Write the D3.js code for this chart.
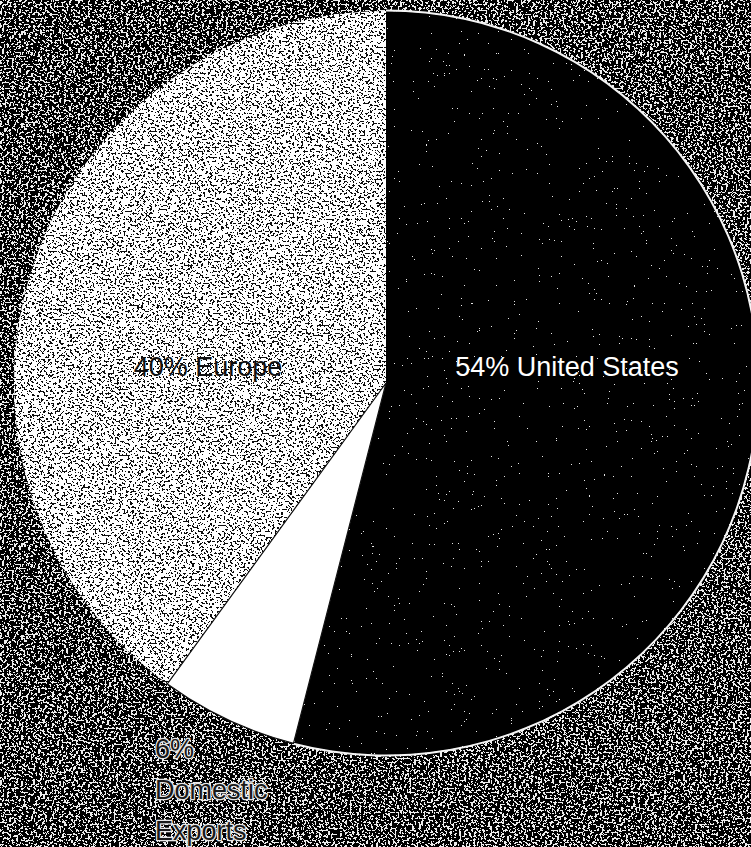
<!DOCTYPE html>
<html>
<head>
<meta charset="utf-8">
<script src="https://cdn.jsdelivr.net/npm/d3@7"></script>
<style>
  html, body { margin: 0; padding: 0; background: #111; }
  svg { display: block; }
  text { font-family: "Liberation Sans", Arial, sans-serif; }
</style>
</head>
<body>
<svg id="chart" width="751" height="847"></svg>
<script>
// Export market shares, clockwise from 12 o'clock
const categories = ["United States", "Domestic Exports", "Europe"];
const shares = [54, 6, 40];
// label lines for each slice
const labelLines = [["54% United States"], ["6%", "Domestic", "Exports"], ["40% Europe"]];

const W = 751, H = 847;
const cx = 386, cy = 383, R = 372;

const svg = d3.select("#chart");
const defs = svg.append("defs");

// Thresholded noise fill: pixels of noise above `cut` take `hi`, the rest `lo`.
function speckle(id, freq, seed, cut, lo, hi, octaves) {
  const N = 100;
  const table = d3.range(N).map(i => ((i + 0.5) / N < cut ? lo : hi)).join(" ");
  const f = defs.append("filter").attr("id", id)
    .attr("color-interpolation-filters", "sRGB")
    .attr("x", "-2%").attr("y", "-2%").attr("width", "104%").attr("height", "104%");
  f.append("feTurbulence").attr("type", "fractalNoise")
    .attr("baseFrequency", freq).attr("numOctaves", octaves || 2)
    .attr("seed", seed).attr("result", "n");
  f.append("feColorMatrix").attr("in", "n").attr("type", "matrix")
    .attr("values", "1 0 0 0 0  1 0 0 0 0  1 0 0 0 0  0 0 0 0 1").attr("result", "g");
  const ct = f.append("feComponentTransfer").attr("in", "g").attr("result", "t");
  ["feFuncR", "feFuncG", "feFuncB"].forEach(fn =>
    ct.append(fn).attr("type", "discrete").attr("tableValues", table));
  f.append("feComposite").attr("in", "t").attr("in2", "SourceGraphic").attr("operator", "in");
}

speckle("grain-bg", "0.42 0.5", 3, 0.548, 0.0, 0.93, 3);
speckle("grain-us", "0.6", 11, 0.8, 0.0, 0.9, 2);
speckle("grain-eu", "0.45 0.5", 7, 0.425, 0.05, 1.0, 3);

// scanned background
svg.append("rect").attr("width", W).attr("height", H)
  .attr("fill", "#000").attr("filter", "url(#grain-bg)");

const pie = d3.pie().sort(null).startAngle(0).endAngle(2 * Math.PI);
const arcs = pie(shares);
const arc = d3.arc().innerRadius(0).outerRadius(R);

const fills = ["#000", "#fff", "#fff"];
const grains = ["url(#grain-us)", null, "url(#grain-eu)"];

const g = svg.append("g").attr("transform", `translate(${cx},${cy})`);

g.selectAll("path.slice").data(arcs).join("path")
  .attr("class", "slice")
  .attr("d", arc)
  .attr("fill", (d, i) => fills[i])
  .attr("filter", (d, i) => grains[i]);

// thin light rim along the United States slice, dark rim on the small slice
g.append("path")
  .attr("d", d3.arc().innerRadius(R - 0.5).outerRadius(R + 1.5)(arcs[0]))
  .attr("fill", "#f4f4f4");
g.append("path")
  .attr("d", arc(arcs[1]))
  .attr("fill", "none").attr("stroke", "#111").attr("stroke-width", 1.2);

// labels
const fontSize = 27;
g.append("text")
  .attr("x", 567 - cx).attr("y", 376 - cy)
  .attr("text-anchor", "middle")
  .attr("font-size", fontSize)
  .attr("fill", "#fff")
  .text(labelLines[0][0]);

g.append("text")
  .attr("x", 208 - cx).attr("y", 376 - cy)
  .attr("text-anchor", "middle")
  .attr("font-size", fontSize)
  .attr("fill", "#111")
  .text(labelLines[2][0]);

const dom = svg.append("text")
  .attr("x", 155).attr("y", 758)
  .attr("font-size", fontSize)
  .attr("fill", "#1a1a1a")
  .attr("stroke", "#e8e8e8").attr("stroke-width", 2.5)
  .attr("paint-order", "stroke")
  .attr("stroke-linejoin", "round");
dom.selectAll("tspan").data(labelLines[1]).join("tspan")
  .attr("x", 155)
  .attr("dy", (d, i) => i === 0 ? 0 : 41)
  .text(d => d);
</script>
</body>
</html>
